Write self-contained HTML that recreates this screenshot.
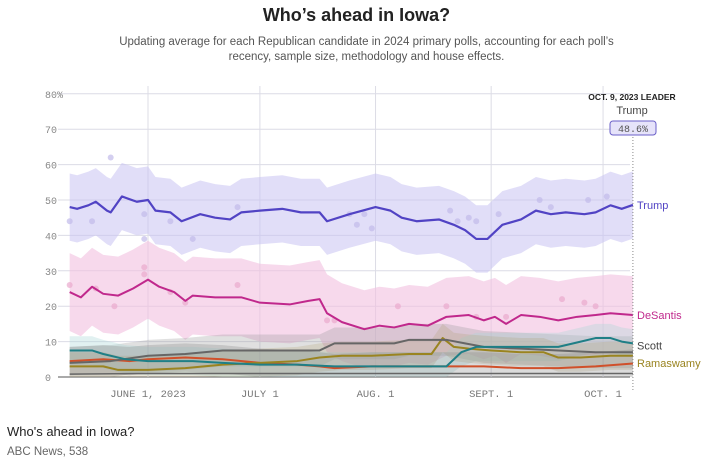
<!DOCTYPE html>
<html><head><meta charset="utf-8"><style>
body{margin:0;width:713px;height:467px;background:#fff;font-family:"Liberation Sans",sans-serif;overflow:hidden;position:relative}
.t{position:absolute;left:0;width:713px;text-align:center}
</style></head><body>
<div class="t" style="top:5px;font-size:18px;font-weight:bold;color:#222">Who’s ahead in Iowa?</div>
<div class="t" style="top:35px;font-size:11.5px;color:#555;line-height:15px;left:10px">Updating average for each Republican candidate in 2024 primary polls, accounting for each poll’s<br>recency, sample size, methodology and house effects.</div>
<svg id="c" width="713" height="420" style="position:absolute;left:0;top:0"></svg>
<div style="position:absolute;left:7px;top:424px;font-size:13px;color:#222">Who's ahead in Iowa?</div>
<div style="position:absolute;left:7px;top:446px;font-size:11.5px;color:#666">ABC News, 538</div>
<script>
const yTicks=[0,10,20,30,40,50,60,70,80];
const xTickDays=[0,30,61,92,122];
const xTickLabels=["JUNE 1, 2023","JULY 1","AUG. 1","SEPT. 1","OCT. 1"];
const trumpDays=[-21,-19,-16,-14,-11,-10,-7,-3,0,2,6,9,14,18,22,25,30,36,41,46,48,54,61,65,68,72,78,82,85,88,91,95,100,104,108,112,117,120,124,127,130];
const trumpVals=[48,47.5,48.5,49.5,47,46.5,51,49.5,50,47,46.5,44,46,45,44.5,46.5,47,47.5,46.5,46.5,44,46,48,47,45,44,44.5,43,41.5,39,39,43,44.5,47,46,46.5,46,46.5,48.5,47.5,48.6];
const desDays=[-21,-18,-15,-12,-8,-4,0,3,7,10,12,18,25,30,38,43,46,48,52,58,62,66,70,75,80,86,90,93,96,100,105,110,115,120,124,130];
const desVals=[24,22.5,25.5,23.5,23,25,27.5,25.5,24,21.5,23,22.5,22.5,21,20.5,21.5,22,18,15.5,13.5,14.5,14,15,14.5,17,17.5,16,17,15,17.5,17,16,17,17.5,18,17.5];
const scottDays=[-21,-15,-12,-6,0,6,12,20,30,40,50,60,70,80,84,88,92,100,110,116,120,124,127,130];
const scottVals=[7.5,7.5,6.5,5,4.5,4.5,4.5,4,3.5,3.5,3,3,3,3,7,8.5,8.5,8.5,8.5,10,11,11,10,9.5];
const otherDays=[-21,-10,0,10,20,30,40,46,50,60,66,70,80,85,90,100,110,120,130];
const otherVals=[4,4.5,6,6.5,7.5,7.5,7.5,7.5,9.5,9.5,9.5,10.5,10.5,9.5,8.5,8,7.5,7,7];
const ramaDays=[-21,-12,-8,0,10,20,30,40,46,52,60,70,76,79,82,86,92,100,106,110,116,124,130];
const ramaVals=[3,3,2,2,2.5,3.5,4,4.5,5.5,6,6,6.5,6.5,11,8.5,8,7.5,7,7,5.5,5.5,6,6];
const haleyDays=[-21,-12,-5,0,10,20,30,40,46,50,60,70,80,90,100,110,120,130];
const haleyVals=[4.5,5,4.5,5,5.5,5,4,3.5,3,2.5,3,3,3,3,2.5,2.5,3,3.8];
const lowDays=[-21,0,30,60,90,130];
const lowVals=[0.8,1,1,1,1,1];
const dotDays=[-21,-15,-10,6,12,24,-1,-1,54,56,58,60,86,88,94,105,108,118,123,81,83,-21,-14,-9,6,10,24,-1,-1,48,50,67,80,88,96,111,117,120];
const dotVals=[44,44,62,44,39,48,46,39,46,43,46,42,45,44,46,50,48,50,51,47,44,26,25,20,24,21,26,31,29,16,16,20,20,17,17,22,21,20];

const X=d=>148+d*3.73, Y=v=>377-v*3.54;
const svg=document.getElementById('c');const NS='http://www.w3.org/2000/svg';
function el(t,a,p){const e=document.createElementNS(NS,t);for(const k in a)e.setAttribute(k,a[k]);(p||svg).appendChild(e);return e;}
yTicks.forEach(v=>{
 const l=el('line',{x1:58,x2:630,y1:Y(v),y2:Y(v),stroke:v?'#dcdce6':'#555','stroke-width':1});
 
 const t=el('text',{x:45,y:Y(v)+4,'font-size':10,fill:'#888','font-family':'Liberation Mono, monospace'});
 t.textContent=v===80?'80%':v;
 
});
xTickDays.forEach((d,i)=>{
 const l=el('line',{x1:X(d),x2:X(d),y1:86,y2:377,stroke:'#dcdce6'});
 
 const t=el('text',{x:X(d),y:397,'font-size':10.5,fill:'#777','text-anchor':'middle','font-family':'Liberation Mono, monospace'});
 t.textContent=xTickLabels[i];
 
});
function band(days,vals,w,color,op,name){
 let p=days.map((d,i)=>X(d)+','+Y(Math.min(vals[i]+w,80))).join(' ');
 p+=' '+days.slice().reverse().map((d,i)=>X(d)+','+Y(Math.max(vals[vals.length-1-i]-w,0))).join(' ');
 const b=el('polygon',{points:p,fill:color,'fill-opacity':op});
 
}
band(trumpDays,trumpVals,9.5,'#c9c3f2',0.55,'trump-band');
band(desDays,desVals,11,'#f2c0df',0.6,'desantis-band');
band(otherDays,otherVals,4.5,'#999',0.3,'other-band');
band(scottDays,scottVals,4,'#a9d6d6',0.35,'scott-band');
band(ramaDays,ramaVals,4,'#b0a070',0.25,'ramaswamy-band');
band(haleyDays,haleyVals,4,'#888',0.3,'haley-band');
dotDays.forEach((d,i)=>{
 const c=el('circle',{cx:X(d),cy:Y(dotVals[i]),r:3,fill:i<21?'#c2bbea':'#e9a9cd','fill-opacity':0.7});
 
});
function line(days,vals,color,name,w){
 const p=el('polyline',{points:days.map((d,i)=>X(d)+','+Y(vals[i])).join(' '),fill:'none',stroke:color,'stroke-width':w||2,'stroke-linejoin':'round'});
 
}
line(lowDays,lowVals,'#666','low-candidate-line',1.5);
line(haleyDays,haleyVals,'#d0502a','haley-line');
line(ramaDays,ramaVals,'#9a8420','ramaswamy-line');
line(otherDays,otherVals,'#666','other-line');
line(scottDays,scottVals,'#1f7f86','scott-line');
line(desDays,desVals,'#c0288c','desantis-line');
line(trumpDays,trumpVals,'#5143c4','trump-line',2.2);
const dl=el('line',{x1:X(130),x2:X(130),y1:134,y2:390,stroke:'#888','stroke-dasharray':'1,2'});

const labs=[['Trump',trumpVals,'#5143c4',0],['DeSantis',desVals,'#c0288c',0],['Scott',scottVals,'#444',2],['Ramaswamy',ramaVals,'#9a8420',7]];
labs.forEach(a=>{const t=el('text',{x:637,y:Y(a[1][a[1].length-1])+4+a[3],'font-size':11,fill:a[2]});t.textContent=a[0];
 });
let t=el('text',{x:632,y:100,'font-size':8.5,'font-weight':'bold',fill:'#222','text-anchor':'middle'});t.textContent='OCT. 9, 2023 LEADER';

t=el('text',{x:632,y:114,'font-size':11,fill:'#444','text-anchor':'middle'});t.textContent='Trump';

const r=el('rect',{x:610,y:121,width:46,height:14,rx:3,fill:'#e6e3fa',stroke:'#6a5fc8'});

t=el('text',{x:633,y:132,'font-size':10,fill:'#555','text-anchor':'middle','font-family':'Liberation Mono, monospace'});t.textContent='48.6%';

</script>
</body></html>
